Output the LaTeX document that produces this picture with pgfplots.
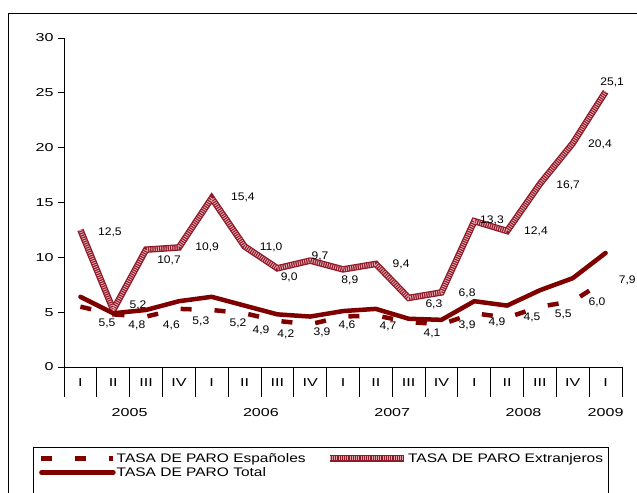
\documentclass[border=0pt]{standalone}
\usepackage{graphicx}
\usepackage{pgfplots}
\pgfplotsset{compat=1.18}
\usepackage{fontspec}
\setmainfont{Liberation Sans}
\definecolor{darkred}{RGB}{128,0,0}
\definecolor{extdark}{RGB}{145,25,40}
\definecolor{extlight}{RGB}{222,165,172}
\tikzset{
  dl/.style={font=\fontsize{11bp}{12bp}\selectfont, xscale=1.1, inner sep=0pt},
  yl/.style={font=\fontsize{11.5bp}{13bp}\selectfont, xscale=1.4, inner sep=0pt},
}
\begin{document}
\begin{tikzpicture}
\begin{axis}[
  at={(0,0)}, anchor=south west,
  scale only axis, width=558bp, height=329bp,
  xmin=-0.5, xmax=16.5, ymin=0, ymax=30,
  axis lines=left,
  axis line style={-, black, line width=0.8bp},
  clip=false, no marks,
  tick align=outside,
  major tick length=6bp,
  tick style={black, line width=0.8bp},
  ytick={0,5,...,30},
  yticklabel style={font=\fontsize{11.5bp}{13bp}\selectfont, xscale=1.4, inner sep=1bp, xshift=-2bp},
  /pgf/number format/assume math mode=true,
  xtick={-0.5,0.5,...,16.5},
  x tick label as interval,
  xticklabels={I,II,III,IV,I,II,III,IV,I,II,III,IV,I,II,III,IV,I},
  x tick style={/pgfplots/major tick length=30bp},
  xticklabel style={font=\fontsize{11.5bp}{13bp}\selectfont, xscale=1.4, yshift=-2bp},
  extra x ticks={-0.5,3.5,7.5,11.5,15.5,16.5},
  extra x tick labels={},
  extra x tick style={/pgfplots/major tick length=56bp},
  legend columns=2,
  legend cell align=left,
  legend image code/.code={\draw[#1] (0bp,0bp) -- (72bp,0bp);},
  legend style={at={(-0.0448,-0.2584)}, anchor=north west, draw=none, fill=none,
    inner sep=0pt, row sep=1.5bp, column sep=0pt,
    font=\fontsize{12.4bp}{14bp}\selectfont, nodes={inner sep=1bp},
    /tikz/every even column/.append style={column sep=20bp}},
]
% Espanoles
\addplot[darkred, line width=4.5bp, dash pattern=on 11bp off 23bp, line cap=butt] coordinates {
(0,5.5) (1,4.8) (2,4.6) (3,5.3) (4,5.2) (5,4.9) (6,4.2) (7,3.9) (8,4.6)
(9,4.7) (10,4.1) (11,3.9) (12,4.9) (13,4.5) (14,5.5) (15,6.0) (16,7.9)};
\addlegendentry{\scalebox{1.25}[1]{TASA DE PARO Españoles}}
% Extranjeros
\addplot[extdark, line width=6.5bp, line join=miter,
  legend image code/.code={\draw[line width=6.5bp, extdark] (0bp,0bp) -- (74bp,0bp);
    \draw[line width=4bp, extlight, dash pattern=on 0.9bp off 1.3bp] (0bp,0bp) -- (74bp,0bp);}]
  coordinates {
(0,12.5) (1,5.2) (2,10.7) (3,10.9) (4,15.4) (5,11.0) (6,9.0) (7,9.7) (8,8.9)
(9,9.4) (10,6.3) (11,6.8) (12,13.3) (13,12.4) (14,16.7) (15,20.4) (16,25.1)};
\addlegendentry{\scalebox{1.25}[1]{TASA DE PARO Extranjeros}}
\addplot[extlight, line width=4bp, dash pattern=on 0.9bp off 1.3bp, forget plot] coordinates {
(0,12.5) (1,5.2) (2,10.7) (3,10.9) (4,15.4) (5,11.0) (6,9.0) (7,9.7) (8,8.9)
(9,9.4) (10,6.3) (11,6.8) (12,13.3) (13,12.4) (14,16.7) (15,20.4) (16,25.1)};
% Total
\addplot[darkred, line width=4.5bp, line cap=round, line join=round] coordinates {
(0,6.4) (1,4.9) (2,5.2) (3,6.0) (4,6.4) (5,5.6) (6,4.8) (7,4.6) (8,5.1)
(9,5.3) (10,4.4) (11,4.3) (12,6.0) (13,5.6) (14,7.0) (15,8.1) (16,10.4)};
\addlegendentry{\scalebox{1.25}[1]{TASA DE PARO Total}}
% data labels Extranjeros
\node[dl] at (axis cs:0.90,12.31) {12,5};
\node[dl] at (axis cs:1.755,5.65) {5,2};
\node[dl] at (axis cs:2.70,9.76) {10,7};
\node[dl] at (axis cs:3.86,10.94) {10,9};
\node[dl] at (axis cs:4.95,15.50) {15,4};
\node[dl] at (axis cs:5.81,10.94) {11,0};
\node[dl] at (axis cs:6.36,8.21) {9,0};
\node[dl] at (axis cs:7.30,10.12) {9,7};
\node[dl] at (axis cs:8.21,7.93) {8,9};
\node[dl] at (axis cs:9.77,9.39) {9,4};
\node[dl] at (axis cs:10.77,5.74) {6,3};
\node[dl] at (axis cs:11.78,6.75) {6,8};
\node[dl] at (axis cs:12.54,13.40) {13,3};
\node[dl] at (axis cs:13.88,12.40) {12,4};
\node[dl] at (axis cs:14.86,16.60) {16,7};
\node[dl] at (axis cs:15.83,20.33) {20,4};
\node[dl] at (axis cs:16.20,25.99) {25,1};
% data labels Espanoles
\node[dl] at (axis cs:0.81,4.01) {5,5};
\node[dl] at (axis cs:1.72,3.78) {4,8};
\node[dl] at (axis cs:2.77,3.83) {4,6};
\node[dl] at (axis cs:3.67,4.15) {5,3};
\node[dl] at (axis cs:4.80,3.96) {5,2};
\node[dl] at (axis cs:5.50,3.37) {4,9};
\node[dl] at (axis cs:6.26,3.01) {4,2};
\node[dl] at (axis cs:7.36,3.19) {3,9};
\node[dl] at (axis cs:8.12,3.83) {4,6};
\node[dl] at (axis cs:9.37,3.74) {4,7};
\node[dl] at (axis cs:10.71,3.10) {4,1};
\node[dl] at (axis cs:11.78,3.83) {3,9};
\node[dl] at (axis cs:12.69,4.10) {4,9};
\node[dl] at (axis cs:13.76,4.56) {4,5};
\node[dl] at (axis cs:14.71,4.83) {5,5};
\node[dl] at (axis cs:15.74,5.93) {6,0};
\node[dl] at (axis cs:16.66,7.93) {7,9};
% year labels
\node[yl] at (axis cs:1.5,0) [yshift=-45.5bp] {2005};
\node[yl] at (axis cs:5.5,0) [yshift=-45.5bp] {2006};
\node[yl] at (axis cs:9.5,0) [yshift=-45.5bp] {2007};
\node[yl] at (axis cs:13.5,0) [yshift=-45.5bp] {2008};
\node[yl] at (axis cs:16,0) [yshift=-45.5bp] {2009};
\end{axis}
\draw[black, line width=1bp] (-55bp,-300bp) rectangle (700bp,353bp);
\draw[black, line width=0.8bp] (-31bp,-80bp) rectangle (544bp,-300bp);
\pgfresetboundingbox
\useasboundingbox (-64bp,-126bp) rectangle (573bp,367bp);
\end{tikzpicture}
\end{document}
